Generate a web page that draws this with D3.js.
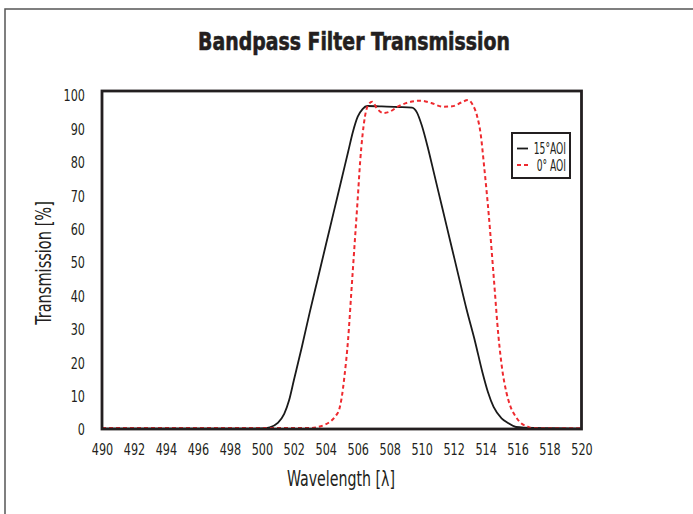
<!DOCTYPE html>
<html>
<head>
<meta charset="utf-8">
<script src="https://cdn.jsdelivr.net/npm/d3@7"></script>
<style>
  html, body { margin: 0; padding: 0; background: #fff; }
  svg { display: block; }
  .cond { font-family: "DejaVu Sans Condensed", "DejaVu Sans", sans-serif; font-stretch: condensed; }
</style>
</head>
<body>
<svg id="chart" width="693" height="514"></svg>
<script>
// ---- Data ----
const chartTitle = "Bandpass Filter Transmission";
const xLabel = "Wavelength [λ]";
const yLabel = "Transmission [%]";
const xTicks = [490, 492, 494, 496, 498, 500, 502, 504, 506, 508, 510, 512, 514, 516, 518, 520];
const yTicks = [0, 10, 20, 30, 40, 50, 60, 70, 80, 90, 100];
const seriesNames = ["15°AOI", "0° AOI"];

// 15° AOI (solid black)
const wl15 = [490, 495, 499.5, 500.0, 500.5, 501.0, 501.4, 501.7, 502.0, 502.5, 503.0, 503.5, 504.0, 504.5, 505.0, 505.4, 505.7, 506.0, 506.3, 506.6, 507.5, 508.5, 509.4, 509.7, 510.0, 510.4, 510.8, 511.3, 511.8, 512.3, 512.8, 513.35, 513.8, 514.15, 514.5, 515.0, 515.4, 515.9, 517, 519, 520];
const tr15 = [0.1, 0.1, 0.1, 0.15, 0.5, 1.8, 4.5, 8.5, 14.5, 24.5, 35, 45, 55, 65, 75, 83, 89, 93.5, 95.8, 96.7, 96.6, 96.4, 96.2, 94.8, 91, 84, 76, 66, 56, 46, 36, 26, 17, 11, 6.6, 3.2, 1.8, 0.6, 0.3, 0.2, 0.1];

// 0° AOI (dashed red)
const wl0 = [490, 496, 503.0, 503.4, 503.9, 504.3, 504.6, 504.85, 505.0, 505.15, 505.4, 505.6, 505.8, 506.0, 506.15, 506.3, 506.45, 506.65, 506.9, 507.2, 507.6, 508.0, 508.5, 509.2, 509.9, 510.6, 511.3, 511.9, 512.5, 512.9, 513.2, 513.45, 513.7, 513.9, 514.2, 514.5, 514.8, 515.05, 515.3, 515.55, 515.9, 516.2, 516.6, 516.9, 518, 520];
const tr0 = [0.3, 0.3, 0.3, 0.5, 1.2, 2.3, 3.8, 6, 9.5, 15, 27, 41, 55, 69, 80, 88, 93.5, 97, 98, 96, 94.6, 95, 96.5, 97.8, 98.3, 97.6, 96.5, 96.6, 97.8, 98.5, 97, 94, 88, 79, 64, 46, 28, 17.5, 11, 6.8, 3.6, 1.8, 0.8, 0.3, 0.2, 0.2];

// ---- Chart ----
const svg = d3.select("#chart");
const ink = "#231f20";

// outer border (top & left visible)
svg.append("rect").attr("x", 5).attr("y", 9).attr("width", 800).attr("height", 600)
  .attr("fill", "none").attr("stroke", "#555").attr("stroke-width", 1.5);

const x = d3.scaleLinear().domain([490, 520]).range([102, 581.5]);
const y = d3.scaleLinear().domain([0, 100]).range([429, 95]);

// title
svg.append("text").attr("class", "cond")
  .attr("transform", "translate(354,50) scale(0.84,1)").attr("text-anchor", "middle")
  .attr("font-size", 25).attr("font-weight", "900").attr("fill", ink)
  .attr("stroke", ink).attr("stroke-width", 0.6)
  .text(chartTitle);

// lines
const line = d3.line().x(d => x(d[0])).y(d => y(d[1])).curve(d3.curveMonotoneX);
const d15 = wl15.map((w, i) => [w, tr15[i]]);
const d0 = wl0.map((w, i) => [w, tr0[i]]);

const plot = svg.append("g");
plot.append("path").datum(d15).attr("d", line).attr("fill", "none")
  .attr("stroke", "#1a1a1a").attr("stroke-width", 1.8);
plot.append("path").datum(d0).attr("d", line).attr("fill", "none")
  .attr("stroke", "#ee2a2f").attr("stroke-width", 2).attr("stroke-dasharray", "4,3");

// frame
svg.append("rect").attr("x", x(490)).attr("y", y(101.2))
  .attr("width", x(520) - x(490)).attr("height", y(0) - y(101.2))
  .attr("fill", "none").attr("stroke", ink).attr("stroke-width", 2.8);

// axes (labels only)
const xAxis = svg.append("g").attr("transform", `translate(0,${y(0)})`)
  .call(d3.axisBottom(x).tickValues(xTicks).tickSize(0).tickFormat(d3.format("d")));
xAxis.select(".domain").remove();
xAxis.selectAll("text").attr("class", "cond").attr("font-size", 16).attr("fill", ink)
  .attr("y", 26).attr("dy", null).attr("transform", "scale(0.78,1)");

const yAxis = svg.append("g").attr("transform", `translate(85,0)`)
  .call(d3.axisLeft(y).tickValues(yTicks).tickSize(0).tickPadding(0).tickFormat(d3.format("d")));
yAxis.select(".domain").remove();
yAxis.selectAll("text").attr("class", "cond").attr("font-size", 16).attr("fill", ink)
  .attr("x", 0).attr("y", 5.8).attr("dy", null).attr("transform", "scale(0.78,1)");

// axis titles
svg.append("text").attr("class", "cond")
  .attr("transform", "translate(341,486) scale(0.77,1)").attr("text-anchor", "middle")
  .attr("font-size", 20.5).attr("fill", ink).text(xLabel);
svg.append("text").attr("class", "cond")
  .attr("transform", "translate(51,263) rotate(-90) scale(0.79,1)").attr("text-anchor", "middle")
  .attr("font-size", 20.5).attr("fill", ink).text(yLabel);

// legend
const lg = svg.append("g");
lg.append("rect").attr("x", 512).attr("y", 133).attr("width", 58).attr("height", 45)
  .attr("fill", "#fff").attr("stroke", ink).attr("stroke-width", 2);
lg.append("line").attr("x1", 517).attr("x2", 528).attr("y1", 148.5).attr("y2", 148.5)
  .attr("stroke", "#1a1a1a").attr("stroke-width", 1.8);
lg.append("line").attr("x1", 517).attr("x2", 528).attr("y1", 165).attr("y2", 165)
  .attr("stroke", "#ee2a2f").attr("stroke-width", 2).attr("stroke-dasharray", "4,3");
lg.append("text").attr("class", "cond").attr("transform", "translate(566,154) scale(0.68,1)")
  .attr("text-anchor", "end").attr("font-size", 15).attr("fill", ink).text(seriesNames[0]);
lg.append("text").attr("class", "cond").attr("transform", "translate(566,170.5) scale(0.68,1)")
  .attr("text-anchor", "end").attr("font-size", 15).attr("fill", ink).text(seriesNames[1]);
</script>
</body>
</html>
